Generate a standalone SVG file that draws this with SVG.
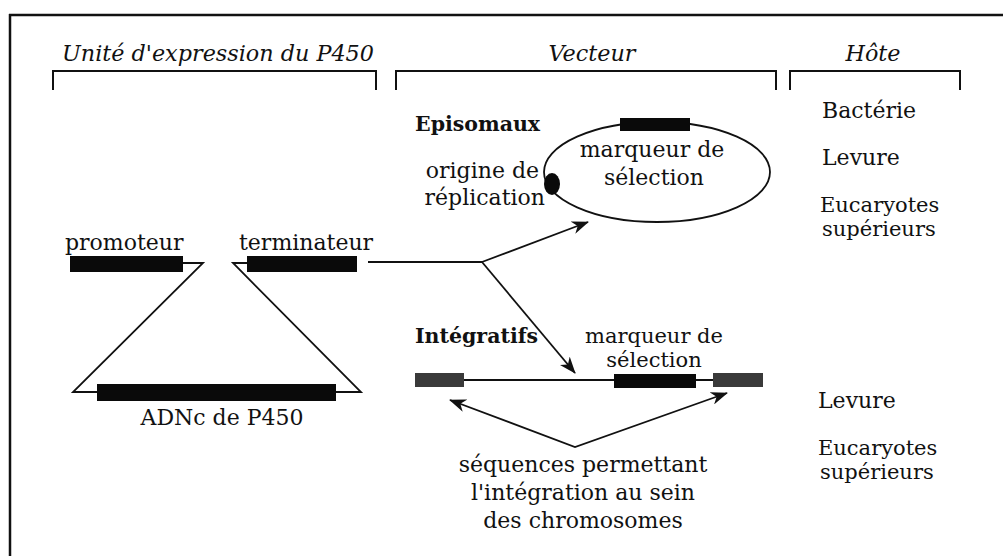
<svg xmlns="http://www.w3.org/2000/svg" width="1003" height="556" viewBox="0 0 1003 556">
<defs>
<style>
.t{font-family:"DejaVu Serif","Liberation Serif",serif;font-size:22px;fill:#111}
.s{font-size:21px}
.ti{font-family:"DejaVu Serif","Liberation Serif",serif;font-size:22.3px;font-style:italic;fill:#111}
.tb{font-family:"DejaVu Serif","Liberation Serif",serif;font-size:20.5px;font-weight:bold;fill:#111}
.m{text-anchor:middle}
.e{text-anchor:end}
.ln{fill:none;stroke:#111;stroke-width:1.8}
.br{fill:none;stroke:#111;stroke-width:2}
.blk{fill:#0a0a0a}
.gry{fill:#3a3a3a}
</style>
<marker id="ah" viewBox="0 0 17 13" refX="16" refY="6.5" markerWidth="17" markerHeight="13" markerUnits="userSpaceOnUse" orient="auto-start-reverse">
<path d="M0,0 L17,6.5 L0,13 L5,6.5 z" fill="#111"/>
</marker>
</defs>
<rect width="1003" height="556" fill="#fff"/>
<g id="frame">
<path d="M9,15 H1003 M10,14 V556" fill="none" stroke="#111" stroke-width="2.5"/>
</g>
<g id="headers">
<text class="ti m" x="218" y="61">Unité d'expression du P450</text>
<path class="br" d="M53,90 V71 H376 V90"/>
<text class="ti m" x="592" y="61">Vecteur</text>
<path class="br" d="M396,90 V71 H776 V90"/>
<text class="ti m" x="873" y="61">Hôte</text>
<path class="br" d="M790,90 V71 H960 V90"/>
</g>
<g id="expression-unit">
<text class="t" x="65" y="250">promoteur</text>
<text class="t" x="239" y="250">terminateur</text>
<path class="ln" d="M183,263 H203 L73,392 H361 L233,263 H247"/>
<rect class="blk" x="70" y="256" width="113" height="16"/>
<rect class="blk" x="247" y="256" width="110" height="16"/>
<rect class="blk" x="97" y="384" width="239" height="17"/>
<text class="t m" x="222" y="425">ADNc de P450</text>
</g>
<g id="episomal">
<text class="tb" x="415" y="131">Episomaux</text>
<ellipse class="ln" cx="657" cy="172" rx="113" ry="50"/>
<rect class="blk" x="620" y="118" width="70" height="13"/>
<ellipse class="blk" cx="552" cy="184" rx="8" ry="11"/>
<text class="t m" x="652" y="157">marqueur de</text>
<text class="t m" x="654" y="185">sélection</text>
<text class="t e" x="539" y="178">origine de</text>
<text class="t e" x="545" y="205">réplication</text>
</g>
<g id="integrative">
<text class="tb" x="415" y="343">Intégratifs</text>
<path class="ln" d="M464,380 H713"/>
<rect class="gry" x="415" y="373" width="49" height="14"/>
<rect class="blk" x="614" y="374" width="82" height="14"/>
<rect class="gry" x="713" y="373" width="50" height="14"/>
<text class="t s m" x="654" y="343">marqueur de</text>
<text class="t s m" x="654" y="367">sélection</text>
<text class="t m" x="583" y="472">séquences permettant</text>
<text class="t m" x="583" y="500">l'intégration au sein</text>
<text class="t m" x="583" y="528">des chromosomes</text>
</g>
<g id="hosts">
<text class="t" x="822" y="118">Bactérie</text>
<text class="t" x="822" y="165">Levure</text>
<text class="t s" x="820" y="212">Eucaryotes</text>
<text class="t s" x="822" y="236">supérieurs</text>
<text class="t" x="818" y="408">Levure</text>
<text class="t s" x="818" y="455">Eucaryotes</text>
<text class="t s" x="820" y="479">supérieurs</text>
</g>
<g id="connectors">
<path class="ln" d="M368,262 H482"/>
<path class="ln" d="M482,262 L588,222" marker-end="url(#ah)"/>
<path class="ln" d="M482,262 L575,373" marker-end="url(#ah)"/>
<path class="ln" d="M450,400 L575,447 L727,393" marker-start="url(#ah)" marker-end="url(#ah)"/>
</g>
</svg>
